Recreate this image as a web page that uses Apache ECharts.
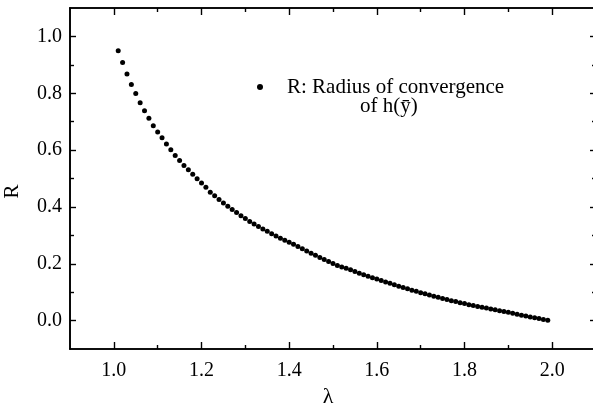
<!DOCTYPE html>
<html>
<head>
<meta charset="utf-8">
<script src="https://cdn.jsdelivr.net/npm/echarts@6/dist/echarts.min.js"></script>
<style>
  html, body { margin: 0; padding: 0; background: #fff; }
  #chart { width: 593px; height: 412px; }
</style>
</head>
<body>
<div id="chart"></div>
<script>
// λ values of the computed points
const lambdaValues = [
  1.01, 1.02, 1.03, 1.04, 1.05, 1.06, 1.07, 1.08, 1.09, 1.10,
  1.11, 1.12, 1.13, 1.14, 1.15, 1.16, 1.17, 1.18, 1.19, 1.20,
  1.21, 1.22, 1.23, 1.24, 1.25, 1.26, 1.27, 1.28, 1.29, 1.30,
  1.31, 1.32, 1.33, 1.34, 1.35, 1.36, 1.37, 1.38, 1.39, 1.40,
  1.41, 1.42, 1.43, 1.44, 1.45, 1.46, 1.47, 1.48, 1.49, 1.50,
  1.51, 1.52, 1.53, 1.54, 1.55, 1.56, 1.57, 1.58, 1.59, 1.60,
  1.61, 1.62, 1.63, 1.64, 1.65, 1.66, 1.67, 1.68, 1.69, 1.70,
  1.71, 1.72, 1.73, 1.74, 1.75, 1.76, 1.77, 1.78, 1.79, 1.80,
  1.81, 1.82, 1.83, 1.84, 1.85, 1.86, 1.87, 1.88, 1.89, 1.90,
  1.91, 1.92, 1.93, 1.94, 1.95, 1.96, 1.97, 1.98, 1.99
];

// R: radius of convergence at each λ
const radiusValues = [
  0.950, 0.908, 0.868, 0.831, 0.799, 0.767, 0.738, 0.712, 0.686, 0.664,
  0.643, 0.621, 0.601, 0.581, 0.563, 0.546, 0.531, 0.515, 0.499, 0.484,
  0.469, 0.452, 0.439, 0.426, 0.414, 0.402, 0.391, 0.380, 0.369, 0.359,
  0.349, 0.340, 0.331, 0.322, 0.314, 0.306, 0.298, 0.290, 0.283, 0.276,
  0.269, 0.261, 0.253, 0.245, 0.237, 0.230, 0.222, 0.215, 0.208, 0.201,
  0.194, 0.189, 0.184, 0.179, 0.173, 0.167, 0.161, 0.156, 0.151, 0.146,
  0.141, 0.136, 0.131, 0.126, 0.121, 0.116, 0.112, 0.107, 0.103, 0.098,
  0.094, 0.090, 0.086, 0.082, 0.078, 0.074, 0.070, 0.067, 0.063, 0.060,
  0.056, 0.053, 0.050, 0.047, 0.044, 0.041, 0.038, 0.035, 0.032, 0.029,
  0.026, 0.022, 0.019, 0.016, 0.013, 0.010, 0.007, 0.004, 0.001
];

// Axis ticks
const xMajorTicks = [1.0, 1.2, 1.4, 1.6, 1.8, 2.0];
const xMinorTicks = [1.1, 1.3, 1.5, 1.7, 1.9];
const yMajorTicks = [0.0, 0.2, 0.4, 0.6, 0.8, 1.0];
const yMinorTicks = [0.1, 0.3, 0.5, 0.7, 0.9];

const seriesName = 'R: Radius of convergence';
const seriesNameLine2 = 'of h(ȳ)';

const FONT = "'Liberation Serif', 'Times New Roman', serif";
const X_MIN = 0.9, X_MAX = 2.1, Y_MIN = -0.1, Y_MAX = 1.1;

const points = lambdaValues.map((l, i) => [l, radiusValues[i]]);

function xAxisDef(position, ticks, len, showLabels, extra) {
  return Object.assign({
    type: 'value', position: position, min: X_MIN, max: X_MAX,
    axisLine: { show: true, onZero: false, lineStyle: { color: '#000', width: 1.6 } },
    axisTick: { show: true, inside: true, length: len, customValues: ticks,
                lineStyle: { color: '#000', width: 1.4 } },
    axisLabel: showLabels
      ? { show: true, customValues: ticks, margin: 12, color: '#000',
          fontFamily: FONT, fontSize: 20, formatter: v => v.toFixed(1) }
      : { show: false },
    splitLine: { show: false }
  }, extra || {});
}

function yAxisDef(position, ticks, len, showLabels, extra) {
  return Object.assign({
    type: 'value', position: position, min: Y_MIN, max: Y_MAX,
    axisLine: { show: true, onZero: false, lineStyle: { color: '#000', width: 1.6 } },
    axisTick: { show: true, inside: true, length: len, customValues: ticks,
                lineStyle: { color: '#000', width: 1.4 } },
    axisLabel: showLabels
      ? { show: true, customValues: ticks, margin: 8, color: '#000',
          fontFamily: FONT, fontSize: 20, formatter: v => v.toFixed(1) }
      : { show: false },
    splitLine: { show: false }
  }, extra || {});
}

const chart = echarts.init(document.getElementById('chart'), null, { renderer: 'canvas' });

chart.setOption({
  animation: false,
  backgroundColor: '#fff',
  grid: { left: 70, top: 8, right: -3, bottom: 63, containLabel: false, outerBoundsMode: 'none' },
  xAxis: [
    xAxisDef('bottom', xMajorTicks, 7, true, {
      name: 'λ', nameLocation: 'middle', nameGap: 34,
      nameTextStyle: { color: '#000', fontFamily: FONT, fontSize: 22, padding: [0, 10, 0, 0] }
    }),
    xAxisDef('bottom', xMinorTicks, 4, false),
    xAxisDef('top', xMajorTicks, 7, false),
    xAxisDef('top', xMinorTicks, 4, false)
  ],
  yAxis: [
    yAxisDef('left', yMajorTicks, 6, true, {
      name: 'R', nameLocation: 'middle', nameGap: 47, nameRotate: 90,
      nameTextStyle: { color: '#000', fontFamily: FONT, fontSize: 21, padding: [0, 26, 0, 0] }
    }),
    yAxisDef('left', yMinorTicks, 4, false),
    yAxisDef('right', yMajorTicks, 6, false),
    yAxisDef('right', yMinorTicks, 4, false)
  ],
  legend: {
    data: [seriesName],
    left: 252, top: 71, orient: 'vertical',
    itemWidth: 6, itemHeight: 6,
    icon: 'circle',
    itemStyle: { color: '#000', opacity: 1 },
    textStyle: { color: '#000', fontFamily: FONT, fontSize: 21, lineHeight: 22, padding: [0, 0, 0, 19] }
  },
  graphic: [{
    type: 'text', left: 360, top: 96,
    style: { text: seriesNameLine2, fill: '#000', font: '21px ' + FONT }
  }],
  series: [{
    name: seriesName,
    type: 'scatter',
    xAxisIndex: 0, yAxisIndex: 0,
    symbol: 'circle', symbolSize: 5,
    itemStyle: { color: '#000', opacity: 1 },
    data: points
  }]
});
</script>
</body>
</html>
